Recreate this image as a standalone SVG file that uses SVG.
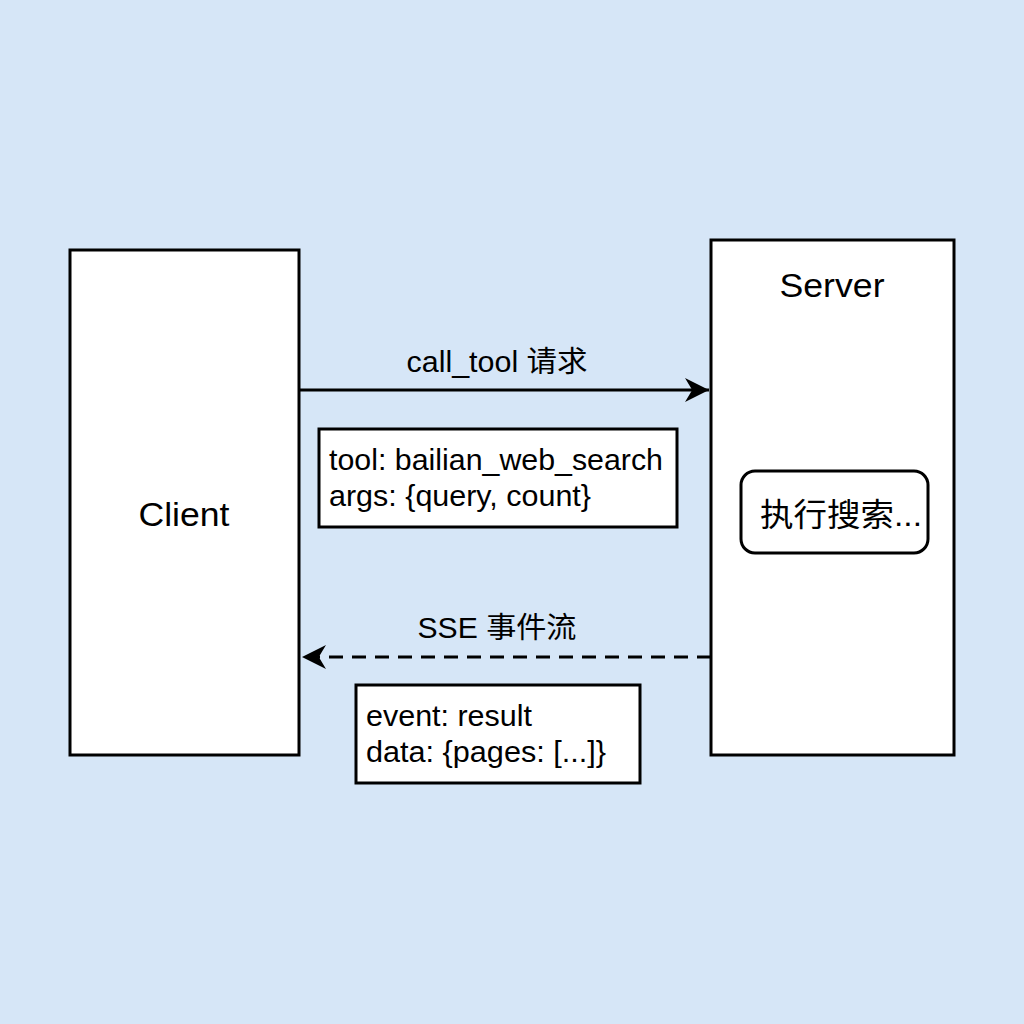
<svg xmlns="http://www.w3.org/2000/svg" width="1024" height="1024" viewBox="0 0 1024 1024">
<defs>
<style>
.box{fill:#fff;stroke:#000;stroke-width:3}
.t{font-family:"Liberation Sans","Noto Sans CJK SC",sans-serif;fill:#000}
.line{stroke:#000;stroke-width:3;fill:none}
</style>
<marker id="ah2" viewBox="0 0 10 10" refX="10" refY="5" markerWidth="24" markerHeight="24" markerUnits="userSpaceOnUse" orient="auto">
<path d="M0,0 L10,5 L0,10 L3,5 Z" fill="#000"/>
</marker>
</defs>
<rect width="1024" height="1024" fill="#d6e6f7"/>
<g id="client">
<rect class="box" x="70" y="250" width="229" height="505"/>
<text class="t" x="184" y="526" font-size="34" text-anchor="middle" textLength="91" lengthAdjust="spacingAndGlyphs">Client</text>
</g>
<g id="server">
<rect class="box" x="711" y="240" width="243" height="515"/>
<text class="t" x="832" y="297" font-size="34" text-anchor="middle" textLength="105" lengthAdjust="spacingAndGlyphs">Server</text>
</g>
<g id="search">
<rect class="box" x="741" y="471" width="187" height="82" rx="14"/>
<text class="t" x="841" y="526" font-size="32" text-anchor="middle" textLength="162" lengthAdjust="spacingAndGlyphs">执行搜索...</text>
</g>
<g id="request-payload">
<rect class="box" x="319" y="429" width="358" height="98"/>
<text class="t" x="329" y="470" font-size="29" textLength="334" lengthAdjust="spacingAndGlyphs">tool: bailian_web_search</text>
<text class="t" x="329" y="506" font-size="29" textLength="262" lengthAdjust="spacingAndGlyphs">args: {query, count}</text>
</g>
<g id="response-payload">
<rect class="box" x="356" y="685" width="284" height="98"/>
<text class="t" x="366" y="726" font-size="29" textLength="166" lengthAdjust="spacingAndGlyphs">event: result</text>
<text class="t" x="366" y="762" font-size="29" textLength="240" lengthAdjust="spacingAndGlyphs">data: {pages: [...]}</text>
</g>
<g id="connectors">
<line class="line" x1="299" y1="390" x2="709" y2="390" marker-end="url(#ah2)"/>
<text class="t" x="497" y="372" font-size="29" text-anchor="middle" textLength="181" lengthAdjust="spacingAndGlyphs">call_tool 请求</text>
<line class="line" x1="711" y1="657" x2="302" y2="657" stroke-dasharray="14,9" marker-end="url(#ah2)"/>
<text class="t" x="497" y="638" font-size="29" text-anchor="middle" textLength="159" lengthAdjust="spacingAndGlyphs">SSE 事件流</text>
</g>
</svg>
